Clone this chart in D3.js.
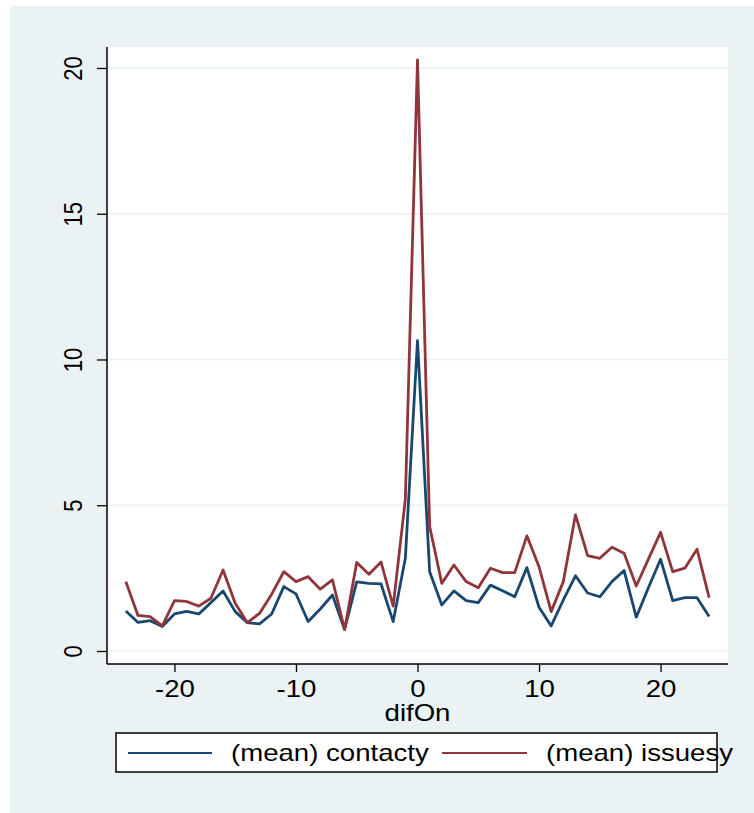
<!DOCTYPE html>
<html><head><meta charset="utf-8">
<script src="https://cdn.jsdelivr.net/npm/d3@7"></script>
<style>html,body{margin:0;padding:0;background:#fff;}svg{display:block;}</style>
</head><body>
<svg id="chart" width="754" height="813"></svg>
<script>
const difOn = [-24,-23,-22,-21,-20,-19,-18,-17,-16,-15,-14,-13,-12,-11,-10,-9,-8,-7,-6,-5,-4,-3,-2,-1,0,1,2,3,4,5,6,7,8,9,10,11,12,13,14,15,16,17,18,19,20,21,22,23,24];
const contacty = [1.37,0.98,1.04,0.84,1.27,1.36,1.27,1.66,2.06,1.35,0.97,0.93,1.27,2.21,1.96,1.01,1.44,1.92,0.74,2.37,2.32,2.30,1.01,3.18,10.65,2.72,1.58,2.06,1.73,1.66,2.26,2.07,1.86,2.86,1.50,0.86,1.75,2.58,1.99,1.86,2.38,2.76,1.16,2.17,3.15,1.73,1.83,1.83,1.18];
const issuesy = [2.38,1.22,1.18,0.86,1.73,1.70,1.54,1.81,2.78,1.64,0.97,1.29,1.95,2.72,2.38,2.55,2.12,2.44,0.74,3.04,2.63,3.05,1.54,5.2,20.28,4.27,2.32,2.95,2.38,2.17,2.84,2.69,2.69,3.95,2.89,1.35,2.38,4.67,3.27,3.18,3.56,3.35,2.23,3.15,4.07,2.72,2.84,3.49,1.83];
const xTicks = [-20,-10,0,10,20];
const yTicks = [0,5,10,15,20];
const seriesNames = ["(mean) contacty","(mean) issuesy"];
const colors = ["#1a476f","#90353b"];
const xTitle = "difOn";

const svg = d3.select("#chart");
const FONT = "'Liberation Sans', Arial, sans-serif";
const K = 1.2; // horizontal stretch of text

// outer background
svg.append("rect").attr("x",10).attr("y",6).attr("width",744).attr("height",807).attr("fill","#eaf2f3");

const L=107, R=728, T=47, B=664;
const x = d3.scaleLinear().domain([-25.55,25.55]).range([L,R]);
const y = d3.scaleLinear().domain([-0.446,20.72]).range([B,T]);

svg.append("rect").attr("x",L).attr("y",T).attr("width",R-L).attr("height",B-T).attr("fill","#fff");

// gridlines
svg.append("g").selectAll("line").data(yTicks).join("line")
  .attr("x1",L).attr("x2",R).attr("y1",d=>y(d)).attr("y2",d=>y(d))
  .attr("stroke","#eaf2f3").attr("stroke-width",1.6);

// lines
const data = [contacty, issuesy];
const line = d3.line().x((d,i)=>x(difOn[i])).y(d=>y(d));
data.forEach((s,j)=>{
  svg.append("path").datum(s).attr("d",line).attr("fill","none")
    .attr("stroke",colors[j]).attr("stroke-width",2.8).attr("stroke-linejoin","round");
});

// axes
const xAxis = svg.append("g").attr("transform",`translate(0,${B})`)
  .call(d3.axisBottom(x).tickValues(xTicks).tickSize(8).tickSizeOuter(0).tickFormat(d3.format("d")));
const yAxis = svg.append("g").attr("transform",`translate(${L},0)`)
  .call(d3.axisLeft(y).tickValues(yTicks).tickSize(10).tickSizeOuter(0).tickFormat(d3.format("d")));
[xAxis,yAxis].forEach(a=>{
  a.select(".domain").remove();
  a.selectAll(".tick line").attr("stroke","#000").attr("stroke-width",1.3);
  a.selectAll("text").attr("font-family",FONT).attr("fill","#000");
});
xAxis.selectAll(".tick text").attr("x",null).attr("y",null).attr("dy",null)
  .attr("font-size",23).attr("text-anchor","middle")
  .attr("transform",`translate(0,33) scale(${K},1)`)
  .text(d=>String(d).replace("−","-"));
yAxis.selectAll(".tick text").attr("x",null).attr("y",null).attr("dy","0.35em")
  .attr("font-size",22).attr("text-anchor","middle")
  .attr("transform",`translate(-34,0) scale(${K},1) rotate(-90)`);

// axis lines
svg.append("line").attr("x1",L).attr("x2",L).attr("y1",T).attr("y2",B).attr("stroke","#000").attr("stroke-width",1.5);
svg.append("line").attr("x1",L).attr("x2",R).attr("y1",B).attr("y2",B).attr("stroke","#000").attr("stroke-width",1.5);

// x title
svg.append("text").attr("transform",`translate(${x(0)},721) scale(${K},1)`)
  .attr("text-anchor","middle").attr("font-family",FONT).attr("font-size",23).text(xTitle);

// legend
const lg = svg.append("g");
lg.append("rect").attr("x",116).attr("y",733).attr("width",601).attr("height",39)
  .attr("fill","#fff").attr("stroke","#000").attr("stroke-width",1.5);
const items = [{x1:128,x2:212,tx:231},{x1:442,x2:527,tx:546}];
items.forEach((it,j)=>{
  lg.append("line").attr("x1",it.x1).attr("x2",it.x2).attr("y1",753).attr("y2",753)
    .attr("stroke",colors[j]).attr("stroke-width",2);
  lg.append("text").attr("transform",`translate(${it.tx},761) scale(${K},1)`)
    .attr("font-family",FONT).attr("font-size",23).text(seriesNames[j]);
});
</script>
</body></html>
